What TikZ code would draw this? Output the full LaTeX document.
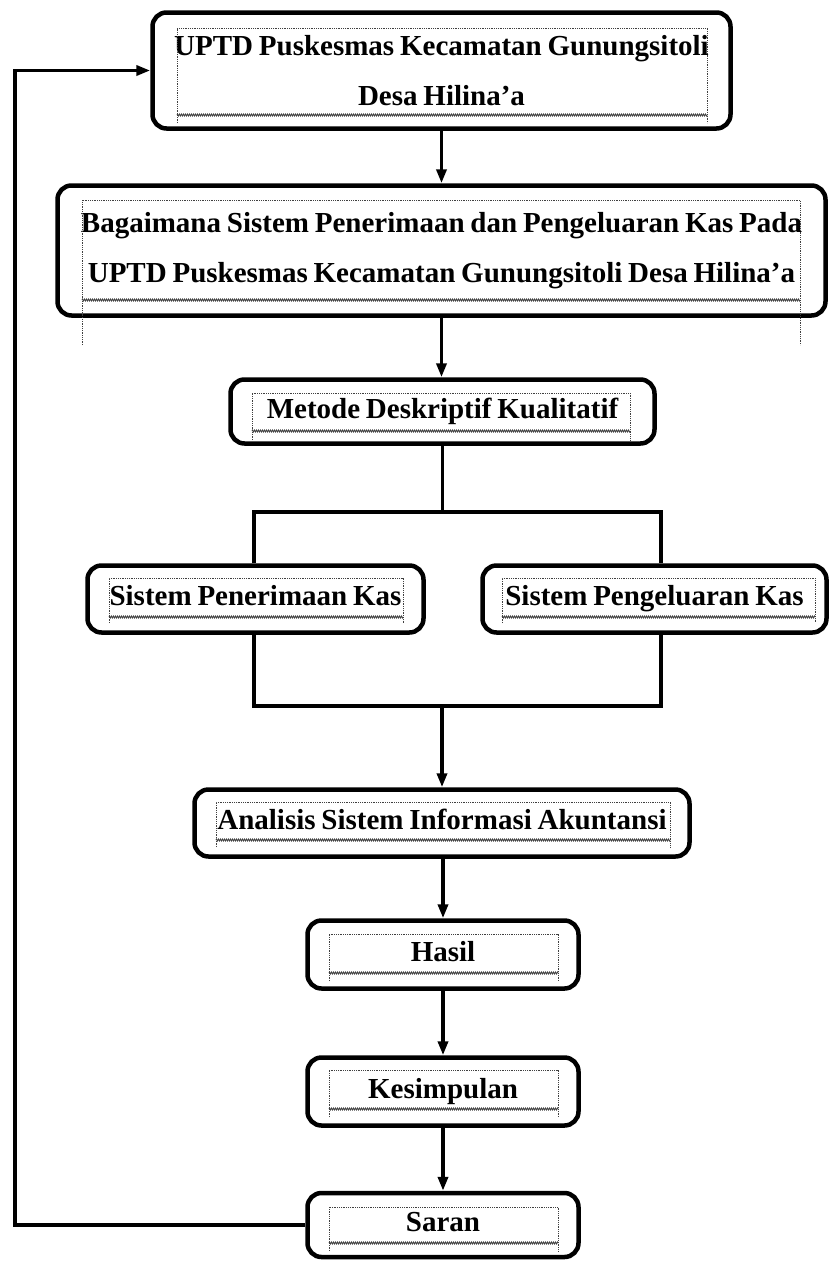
\documentclass[tikz,border=0pt]{standalone}
\usepackage{fontspec}
\setmainfont{Liberation Serif}[WordSpace=0.8]
\usetikzlibrary{arrows.meta,decorations.pathmorphing,calc}
\newcommand\tframe[5]{%
  \draw[tframe] (#1,#5) -- (#1,#2) -- (#3,#2) -- (#3,#5);
  \draw[twavy] (#1,#4) -- (#3,#4);}
\begin{document}
\begin{tikzpicture}[x=1pt,y=-1pt,
  box/.style={draw,line width=4.5pt,rounded corners=14pt,inner sep=0pt,align=center,
    font=\fontsize{29}{50}\selectfont\bfseries},
  one/.style={box,text height=20pt,text depth=7pt},
  conn/.style={line width=3.5pt},
  arr/.style={conn,-{Triangle[length=14pt,width=10pt]}},
  tframe/.style={densely dotted,line width=0.8pt,black!75},
  twavy/.style={decorate,decoration={zigzag,amplitude=1pt,segment length=2pt},line width=0.7pt,black!75}
]
\useasboundingbox (0,0) rectangle (830,1262);

\node[box,minimum width=578pt,minimum height=116pt] (b1) at (441.5,70.5)
  {UPTD Puskesmas Kecamatan Gunungsitoli\\Desa Hilina’a};
\node[box,minimum width=768pt,minimum height=130pt] (b2) at (441.5,250.5)
  {Bagaimana Sistem Penerimaan dan Pengeluaran Kas Pada\\UPTD Puskesmas Kecamatan Gunungsitoli Desa Hilina’a};
\node[one,minimum width=424pt,minimum height=64pt] (b3) at (442.5,411.5) {Metode Deskriptif Kualitatif};
\node[one,minimum width=336pt,minimum height=67pt] (b4) at (255.5,599) {Sistem Penerimaan Kas};
\node[one,minimum width=344pt,minimum height=67pt] (b5) at (654.5,599) {Sistem Pengeluaran Kas};
\node[one,minimum width=495pt,minimum height=67pt] (b6) at (442,823) {Analisis Sistem Informasi Akuntansi};
\node[one,minimum width=271pt,minimum height=68pt] (b7) at (443,954.5) {Hasil};
\node[one,minimum width=271pt,minimum height=68pt] (b8) at (443,1091.5) {Kesimpulan};
\node[one,minimum width=271pt,minimum height=64pt] (b9) at (443,1225) {Saran};

\tframe{177}{28}{707}{115}{123}
\tframe{82}{200}{800}{300}{345}
\tframe{252}{393}{630}{431}{440}
\tframe{109}{578}{403}{617}{623}
\tframe{502}{578}{815}{617}{623}
\tframe{216}{802}{670}{840}{847}
\tframe{329}{934}{558}{973}{981}
\tframe{329}{1070}{558}{1109}{1117}
\tframe{329}{1207}{558}{1243}{1251}

\coordinate (jl) at (254,512);
\coordinate (jr) at (661,512);
\coordinate (kl) at (254,706);
\coordinate (kr) at (661,706);
\coordinate (fb) at (15,0);

\draw[arr] (b1.south) -- (b1.south |- b2.north);
\draw[arr] (b2.south) -- (b2.south |- b3.north);
\draw[conn] (b3.south) -- (b3.south |- jl);
\draw[conn] (b4.north -| jl) -- (jl) -- (jr) -- (b5.north -| jr);
\draw[conn] (b4.south -| kl) -- (kl) -- (kr) -- (b5.south -| kr);
\draw[arr] (b6.north |- kl) -- (b6.north);
\draw[arr] (b7.north |- b6.south) -- (b7.north);
\draw[arr] (b7.south) -- (b8.north);
\draw[arr] (b8.south) -- (b9.north);
\draw[arr] (b9.west) -- (b9.west -| fb) -- (fb |- b1.west) -- (b1.west);
\end{tikzpicture}
\end{document}
